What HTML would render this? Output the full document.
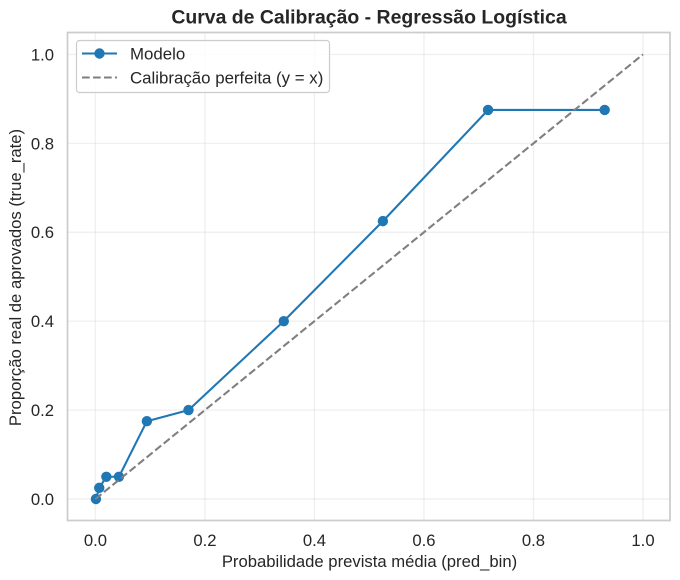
<!DOCTYPE html>
<html lang="pt">
<head>
<meta charset="utf-8">
<title>Curva de Calibração - Regressão Logística</title>
<style>
html,body{margin:0;padding:0;background:#fff;width:680px;height:580px;overflow:hidden}
svg{display:block}
text{font-family:"Liberation Sans",Arial,sans-serif;fill:#262626}
</style>
</head>
<body>
<svg id="chart" xmlns="http://www.w3.org/2000/svg" width="680" height="580" viewBox="0 0 680 580">
  <rect x="0" y="0" width="680" height="580" fill="#fff"/>
  <g id="grid"></g>
  <g id="series"></g>
  <rect x="67.5" y="32.5" width="602.5" height="488" fill="none" stroke="#cccccc" stroke-width="1.75"/>
  <g id="ticks"></g>
  <text x="369" y="23.5" text-anchor="middle" font-size="19.44" font-weight="700">Curva de Calibração - Regressão Logística</text>
  <text x="369.5" y="567" text-anchor="middle" font-size="16.67">Probabilidade prevista média (pred_bin)</text>
  <text transform="translate(21 277.5) rotate(-90)" text-anchor="middle" font-size="16.67">Proporção real de aprovados (true_rate)</text>
  <g>
    <rect x="76.5" y="40.5" width="253" height="52" rx="3" ry="3" fill="#fff" fill-opacity="0.8" stroke="#cccccc" stroke-width="1.2"/>
    <g>
      <line x1="82" y1="53.5" x2="117" y2="53.5" stroke="#1f77b4" stroke-width="2.08"/>
      <circle cx="99.5" cy="53.5" r="5.2" fill="#1f77b4"/>
      <text x="130" y="59.5" font-size="16.85">Modelo</text>
    </g>
    <g>
      <line x1="82" y1="77.5" x2="117" y2="77.5" stroke="#7f7f7f" stroke-width="2.08" stroke-dasharray="7.7 3.3"/>
      <text x="130" y="83.5" font-size="16.85">Calibração perfeita (y = x)</text>
    </g>
  </g>
</svg>
<script>
const xTicks = [0, 0.2, 0.4, 0.6, 0.8, 1.0];
const yTicks = [0, 0.2, 0.4, 0.6, 0.8, 1.0];
const tickLabels = ["0.0", "0.2", "0.4", "0.6", "0.8", "1.0"];
const predBin = [0.001, 0.007, 0.02, 0.043, 0.094, 0.17, 0.344, 0.525, 0.717, 0.93];
const trueRate = [0, 0.025, 0.05, 0.05, 0.175, 0.2, 0.4, 0.625, 0.875, 0.875];
const perfectX = [0, 1];
const perfectY = [0, 1];

const NS = "http://www.w3.org/2000/svg";
const sx = v => 95.4 + v * 547.6;
const sy = v => 499 - v * 444.6;
const L = 67.5, R = 670, T = 32.5, B = 520.5;
const gridG = document.getElementById("grid");
const seriesG = document.getElementById("series");
const ticksG = document.getElementById("ticks");

function mk(tag, parent, props) {
  const el = document.createElementNS(NS, tag);
  for (const k in props) el.setAttribute(k, props[k]);
  parent.appendChild(el);
  return el;
}

xTicks.forEach((t, i) => {
  const g = mk("line", gridG, {x1: sx(t), x2: sx(t), y1: T, y2: B, stroke: "#cccccc", "stroke-opacity": 0.3, "stroke-width": 1.4});
  
  
  const l = mk("text", ticksG, {x: sx(t), y: 546, "text-anchor": "middle", "font-size": 16.67});
  l.textContent = tickLabels[i];
  
  
});

yTicks.forEach((t, i) => {
  const g = mk("line", gridG, {x1: L, x2: R, y1: sy(t), y2: sy(t), stroke: "#cccccc", "stroke-opacity": 0.3, "stroke-width": 1.4});
  
  
  const l = mk("text", ticksG, {x: 54, y: sy(t) + 6, "text-anchor": "end", "font-size": 16.67});
  l.textContent = tickLabels[i];
  
  
});

const modelLine = mk("polyline", seriesG, {
  points: predBin.map((x, i) => sx(x) + "," + sy(trueRate[i])).join(" "),
  fill: "none", stroke: "#1f77b4", "stroke-width": 2.08, "stroke-linejoin": "round"
});



predBin.forEach((x, i) => {
  const c = mk("circle", seriesG, {cx: sx(x), cy: sy(trueRate[i]), r: 5.2, fill: "#1f77b4"});
  
  
});

const perfectLine = mk("line", seriesG, {
  x1: sx(perfectX[0]), y1: sy(perfectY[0]), x2: sx(perfectX[1]), y2: sy(perfectY[1]),
  stroke: "#7f7f7f", "stroke-width": 2.08, "stroke-dasharray": "7.7 3.3"
});


</script>
</body>
</html>
